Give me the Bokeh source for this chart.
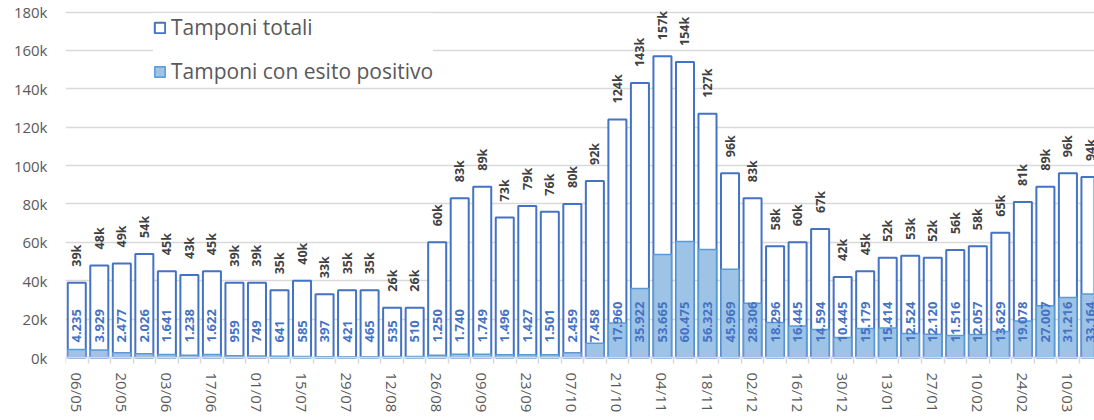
import math
from bokeh.plotting import figure
from bokeh.models import FixedTicker, Legend, LegendItem, ColumnDataSource
from bokeh.core.properties import value
from bokeh.embed import file_html
from bokeh.resources import INLINE

# ---- data ----
weeks = ["06/05", "13/05", "20/05", "27/05", "03/06", "10/06", "17/06", "24/06",
         "01/07", "08/07", "15/07", "22/07", "29/07", "05/08", "12/08", "19/08",
         "26/08", "02/09", "09/09", "16/09", "23/09", "30/09", "07/10", "14/10",
         "21/10", "28/10", "04/11", "11/11", "18/11", "25/11", "02/12", "09/12",
         "16/12", "23/12", "30/12", "06/01", "13/01", "20/01", "27/01", "03/02",
         "10/02", "17/02", "24/02", "03/03", "10/03", "17/03"]

totals_k = [39, 48, 49, 54, 45, 43, 45, 39, 39, 35, 40, 33, 35, 35, 26, 26,
            60, 83, 89, 73, 79, 76, 80, 92, 124, 143, 157, 154, 127, 96, 83, 58,
            60, 67, 42, 45, 52, 53, 52, 56, 58, 65, 81, 89, 96, 94]

positives = [4235, 3929, 2477, 2026, 1641, 1238, 1622, 959, 749, 641, 585, 397,
             421, 465, 535, 510, 1250, 1740, 1749, 1496, 1427, 1501, 2459, 7458,
             17960, 35922, 53665, 60475, 56323, 45969, 28306, 18296, 16445, 14594,
             10445, 15179, 15414, 12524, 12120, 11516, 12057, 13629, 19078, 27007,
             31216, 33164]

y_ticks = [0, 20000, 40000, 60000, 80000, 100000, 120000, 140000, 160000, 180000]

series_names = ["Tamponi totali", "Tamponi con esito positivo"]

# ---- derived ----
xs = list(range(len(weeks)))
totals = [t * 1000 for t in totals_k]
tot_labels = [f"{t}k" for t in totals_k]
pos_labels = [f"{v:,}".replace(",", ".") for v in positives]

src = ColumnDataSource(dict(x=xs, total=totals, pos=positives,
                            tlab=tot_labels, plab=pos_labels,
                            zero=[0] * len(xs)))

FONT = "Open Sans"

p = figure(width=1094, height=420, output_backend="svg", toolbar_location=None,
           x_range=(-0.5, 45.18), y_range=(-32800, 186000),
           min_border_left=65, min_border_right=0, min_border_top=0,
           min_border_bottom=0)
p.outline_line_color = None
p.background_fill_color = "white"
p.border_fill_color = "white"

r_tot = p.vbar(x="x", top="total", width=0.8, fill_color="white",
               line_color="#4472C4", line_width=2, source=src)
r_pos = p.vbar(x="x", top="pos", width=0.8, fill_color="#9DC3E6",
               line_color="#5B9BD5", line_width=1.5, source=src)

p.text(x="x", y="total", text="tlab", angle=math.pi / 2, text_align="left",
       text_baseline="middle", y_offset=-16, text_font=value(FONT),
       text_font_style="bold", text_font_size="12.5px", text_color="#404040",
       source=src)
p.text(x="x", y="zero", text="plab", angle=math.pi / 2, text_align="left",
       text_baseline="middle", y_offset=-15, text_font=value(FONT),
       text_font_style="bold", text_font_size="13px", text_color="#4472C4",
       source=src)

# axes
even = [i for i in xs if i % 2 == 0]
p.xaxis.fixed_location = 0
p.xaxis.ticker = FixedTicker(ticks=even, minor_ticks=[i - 0.5 for i in range(len(xs) + 1)])
p.xaxis.major_label_overrides = {i: weeks[i] for i in even}
p.xaxis.major_label_orientation = "vertical"
p.xaxis.axis_line_color = "#D9D9D9"
p.xaxis.axis_line_width = 1.5
p.xaxis.major_tick_line_color = None
p.xaxis.major_tick_out = 6
p.xaxis.major_tick_in = 0
p.xaxis.minor_tick_line_color = "#D9D9D9"
p.xaxis.minor_tick_line_width = 1.5
p.xaxis.minor_tick_out = 6
p.xaxis.minor_tick_in = 0
p.xaxis.major_label_standoff = 9
p.xaxis.major_label_text_font = FONT
p.xaxis.major_label_text_font_size = "15px"
p.xaxis.major_label_text_color = "#595959"

p.yaxis.ticker = FixedTicker(ticks=y_ticks)
p.yaxis.major_label_overrides = {t: f"{t // 1000}k" for t in y_ticks}
p.yaxis.axis_line_color = None
p.yaxis.major_tick_line_color = None
p.yaxis.minor_tick_line_color = None
p.yaxis.major_tick_out = 0
p.yaxis.major_label_standoff = 18
p.yaxis.major_label_text_font = FONT
p.yaxis.major_label_text_font_size = "15px"
p.yaxis.major_label_text_color = "#595959"

p.xgrid.grid_line_color = None
p.ygrid.grid_line_color = "#D9D9D9"
p.ygrid.grid_line_width = 1.5

legend = Legend(items=[LegendItem(label=series_names[0], renderers=[r_tot]),
                       LegendItem(label=series_names[1], renderers=[r_pos])],
                location=(88, 335), padding=21, margin=0, spacing=16,
                glyph_width=13, glyph_height=13, label_standoff=5,
                label_text_font=FONT, label_text_font_size="21px",
                label_text_color="#595959", border_line_color=None,
                background_fill_color="white", background_fill_alpha=1.0)
p.add_layout(legend)

open("out.html", "w").write(file_html(p, INLINE))
